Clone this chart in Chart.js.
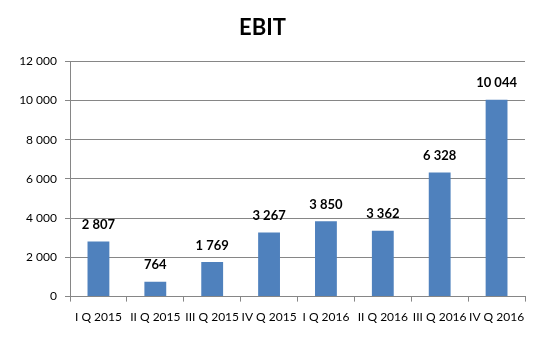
<!DOCTYPE html>
<html lang="ru">
<head>
<meta charset="UTF-8">
<title>EBIT</title>
<script src="https://cdn.jsdelivr.net/npm/chart.js"></script>
<style>
  * { margin: 0; padding: 0; }
  body { background: #fff; width: 537px; height: 342px; overflow: hidden; }
  #wrap { width: 537px; height: 342px; }
</style>
</head>
<body>
<div id="wrap"><canvas id="chart"></canvas></div>
<script>
const quarters = ['I Q 2015', 'II Q 2015', 'III Q 2015', 'IV Q 2015', 'I Q 2016', 'II Q 2016', 'III Q 2016', 'IV Q 2016'];
const ebit = [2807, 764, 1769, 3267, 3850, 3362, 6328, 10044];

const fmt = v => String(v).replace(/\B(?=(\d{3})+(?!\d))/g, ' ');

// подписи значений над столбцами
const barLabels = {
  id: 'barLabels',
  afterDatasetsDraw(chart) {
    const ctx = chart.ctx;
    const meta = chart.getDatasetMeta(0);
    ctx.save();
    ctx.font = 'bold 13px Lato, "Liberation Sans", sans-serif';
    ctx.fillStyle = '#000';
    ctx.textAlign = 'center';
    ctx.textBaseline = 'bottom';
    meta.data.forEach((bar, i) => {
      ctx.fillText(fmt(ebit[i]), bar.x, bar.y - 10);
    });
    ctx.restore();
  }
};

new Chart(document.getElementById('chart'), {
  type: 'bar',
  data: {
    labels: quarters,
    datasets: [{
      data: ebit,
      backgroundColor: '#4F81BD',
      barPercentage: 0.48,
      categoryPercentage: 0.8
    }]
  },
  options: {
    responsive: true,
    maintainAspectRatio: false,
    animation: false,
    layout: { padding: { left: 0, right: 12, top: 0, bottom: 10 } },
    plugins: {
      legend: { display: false },
      tooltip: { enabled: false },
      title: {
        display: true,
        text: 'EBIT',
        color: '#000',
        font: { family: 'Lato, "Liberation Sans", sans-serif', size: 22, weight: 'bold' },
        padding: { top: 15, bottom: 20 }
      }
    },
    scales: {
      x: {
        grid: { offset: true, drawOnChartArea: false, drawTicks: true, tickLength: 5, color: '#868686' },
        border: { color: '#868686' },
        ticks: { color: '#000', font: { family: 'Lato, "Liberation Sans", sans-serif', size: 12 }, padding: 8, maxRotation: 0, autoSkip: false }
      },
      y: {
        min: 0,
        max: 12000,
        afterFit(scale) { scale.width = 70; },
        grid: { color: '#868686', tickLength: 5 },
        border: { color: '#868686' },
        ticks: {
          stepSize: 2000,
          color: '#000',
          padding: 8,
          font: { family: 'Lato, "Liberation Sans", sans-serif', size: 12 },
          callback: v => fmt(v)
        }
      }
    }
  },
  plugins: [barLabels]
});
</script>
</body>
</html>
